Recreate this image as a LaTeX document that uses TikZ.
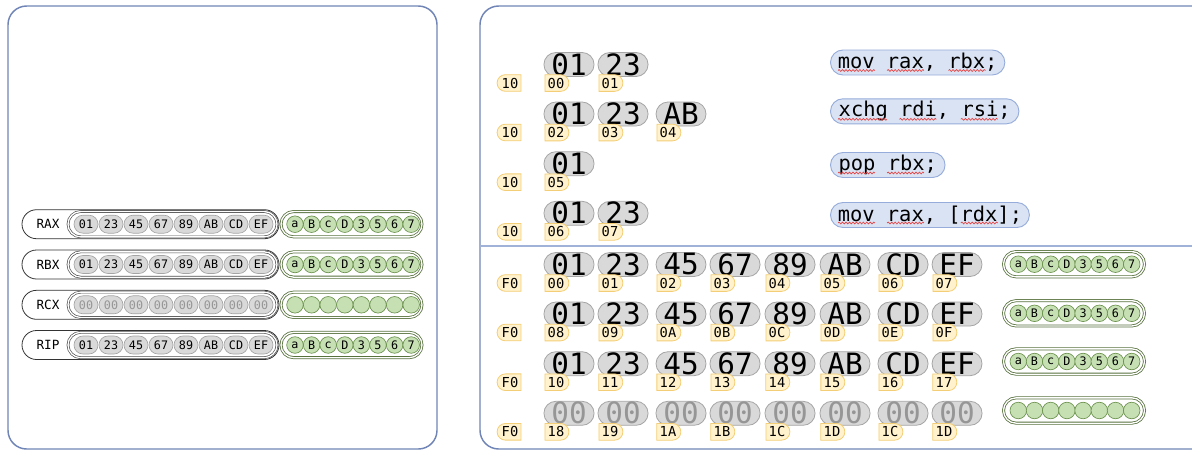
\documentclass[tikz,border=0pt]{standalone}
\usepackage{fontspec}
\usepackage{tikz}
\usetikzlibrary{positioning, shapes.misc, decorations.pathmorphing}
\newfontfamily\monofont{DejaVu Sans Mono}
\definecolor{panelblue}{RGB}{112,133,182}
\definecolor{dividerblue}{RGB}{160,178,215}
\definecolor{bytegray}{RGB}{217,217,217}
\definecolor{byteedge}{RGB}{165,165,165}
\definecolor{zerogray}{RGB}{150,150,150}
\definecolor{flaggreen}{RGB}{198,224,180}
\definecolor{flagedge}{RGB}{108,146,78}
\definecolor{flagdark}{RGB}{88,114,62}
\definecolor{tagyellow}{RGB}{255,242,204}
\definecolor{tagedge}{RGB}{244,206,118}
\definecolor{codeblue}{RGB}{218,227,243}
\definecolor{codeedge}{RGB}{150,172,218}
\definecolor{squigred}{RGB}{228,64,64}

\begin{document}
\begin{tikzpicture}[x=0.75pt, y=-0.75pt,
  panel/.style={draw=panelblue, line width=1.1pt, rounded corners=14pt},
  reg/.style={rounded rectangle, draw=black!80, line width=0.6pt, fill=white,
              minimum width=192.75pt, minimum height=21.75pt, inner sep=0pt},
  regname/.style={font=\monofont\fontsize{9.5}{10}\selectfont, inner sep=0pt},
  bytes/.style={rounded rectangle, draw=black!70, double=white, double distance=1pt,
              line width=0.5pt, minimum width=156.75pt, minimum height=19pt, inner sep=0pt},
  sbyte/.style={rounded rectangle, draw=byteedge, fill=bytegray, line width=0.5pt,
              minimum width=18pt, minimum height=13.5pt, inner sep=0pt,
              font=\monofont\fontsize{8.8}{9}\selectfont},
  flags/.style={rounded rectangle, draw=flagdark, double=white, double distance=1pt,
              line width=0.6pt, minimum width=105.75pt, minimum height=19pt, inner sep=0pt},
  flag/.style={circle, draw=flagedge, fill=flaggreen, line width=0.5pt,
              minimum size=12.4pt, inner sep=0pt, font=\monofont\fontsize{8.8}{9}\selectfont},
  bbyte/.style={rounded rectangle, draw=byteedge, fill=bytegray, line width=0.6pt,
              minimum width=37.5pt, minimum height=18pt, inner sep=0pt,
              font=\monofont\fontsize{22}{22}\selectfont},
  addr/.style={rounded rectangle, rounded rectangle west arc=none, draw=tagedge,
              fill=tagyellow, line width=0.6pt, minimum width=18pt, minimum height=12.5pt,
              inner sep=0pt, font=\monofont\fontsize{10.3}{10}\selectfont},
  seg/.style={addr, rounded rectangle west arc=convex, rounded rectangle east arc=none},
  code/.style={rounded rectangle, draw=codeedge, fill=codeblue, line width=0.7pt,
              minimum height=18.75pt, inner xsep=2.5pt, inner ysep=0pt, anchor=west,
              font=\monofont\fontsize{15.3}{16}\selectfont},
  squig/.style={draw=squigred, line width=0.5pt, decorate,
              decoration={snake, amplitude=0.7pt, segment length=2.6pt}},
  zero/.style={text=zerogray}
]
\useasboundingbox (0,0) rectangle (1192,450);
\begin{scope}
  \clip (0,0) rectangle (1192,450);
  \draw[panel] (8,6) rectangle (437,449);
  \draw[panel] (480,6) rectangle (1215,449);
  \draw[dividerblue, line width=0.8pt] (480,246) -- (1192,246);
\end{scope}

% registers
\foreach \r/\y in {RAX/224.2, RBX/264.5, RCX/304.8, RIP/345} {
  \node[reg] (\r) at (150.5,\y) {};
  \node[regname] (\r-name) at (48,\y) {\r};
  \node[bytes] (\r-bytes) at (172.5,\y) {};
  \node[flags] (\r-flags) at (351.5,\y) {};
}
\foreach \r/\y in {RAX/224.2, RBX/264.5, RIP/345} {
  \foreach \b [count=\i from 0] in {01,23,45,67,89,AB,CD,EF}
    \node[sbyte] (\r-b\i) at ({86+25*\i},\y) {\b};
  \foreach \f [count=\i from 0] in {a,B,c,D,3,5,6,7}
    \node[flag] (\r-f\i) at ({295+16.6*\i},\y) {\f};
}
\foreach \i in {0,...,7} {
  \node[sbyte, zero] (RCX-b\i) at ({86+25*\i},304.8) {00};
  \node[flag] (RCX-f\i) at ({295+16.6*\i},304.8) {};
}

% segment tags
\foreach \y/\s [count=\k] in {64.5/10, 114/10, 163.7/10, 213.3/10,
                              264.5/F0, 314/F0, 363.7/F0, 413.3/F0}
  \node[seg] (seg\k) at (510,\y+18.5) {\s};

% instruction bytes
\node[bbyte] (i1-b1) at (569,64.5) {01};
\node[bbyte] (i1-b2) at (623,64.5) {23};
\node[bbyte] (i2-b1) at (569,114) {01};
\node[bbyte] (i2-b2) at (623,114) {23};
\node[bbyte] (i2-b3) at (681,114) {AB};
\node[bbyte] (i3-b1) at (569,163.7) {01};
\node[bbyte] (i4-b1) at (569,213.3) {01};
\node[bbyte] (i4-b2) at (623,213.3) {23};
\foreach \n/\a in {i1-b1/00, i1-b2/01, i2-b1/02, i2-b2/03, i2-b3/04,
                   i3-b1/05, i4-b1/06, i4-b2/07}
  \node[addr] (\n-a) at ([xshift=-9.75pt, yshift=-13.9pt]\n.center) {\a};

% instructions
\node[code] (c1) at (830,62.5) {mov rax, rbx;};
\node[code] (c2) at (830,111.3) {xchg rdi, rsi;};
\node[code] (c3) at (830,165) {pop rbx;};
\node[code] (c4) at (830,215) {mov rax, [rdx];};
\foreach \n/\a/\b in {c1/0/3, c1/4/7, c1/9/12, c2/0/4, c2/5/8, c2/10/13,
                      c3/0/3, c3/4/7, c4/0/3, c4/4/7, c4/10/13}
  \draw[squig] ([xshift=6pt+\a*9.21pt, yshift=-6pt]\n.west)
            -- ([xshift=6pt+\b*9.21pt, yshift=-6pt]\n.west);

% data bytes
\foreach \y/\adrs [count=\k] in {264.5/{00,01,02,03,04,05,06,07},
                                 314/{08,09,0A,0B,0C,0D,0E,0F},
                                 363.7/{10,11,12,13,14,15,16,17}} {
  \foreach \x/\b [count=\i] in {569/01,623/23,681/45,735/67,790/89,845/AB,903/CD,957/EF}
    \node[bbyte] (d\k-b\i) at (\x,\y) {\b};
  \foreach \a [count=\i] in \adrs
    \node[addr] (d\k-a\i) at ([xshift=-9.75pt, yshift=-13.9pt]d\k-b\i.center) {\a};
}
\foreach \x/\a [count=\i] in {569/18,623/19,681/1A,735/1B,790/1C,845/1D,903/1C,957/1D} {
  \node[bbyte, zero] (d4-b\i) at (\x,413.3) {00};
  \node[addr] (d4-a\i) at ([xshift=-9.75pt, yshift=-13.9pt]d4-b\i.center) {\a};
}

% data flags
\foreach \y [count=\k] in {264.2, 313.3, 361.5} {
  \node[flags] (d\k-flags) at (1074,\y) {};
  \foreach \f [count=\i] in {a,B,c,D,3,5,6,7}
    \node[flag] (d\k-f\i) at ({1018.3+16.2*(\i-1)},\y) {\f};
}
\node[flags] (d4-flags) at (1074,410.5) {};
\foreach \i in {1,...,8}
  \node[flag] (d4-f\i) at ({1018.3+16.2*(\i-1)},410.5) {};
\end{tikzpicture}
\end{document}
